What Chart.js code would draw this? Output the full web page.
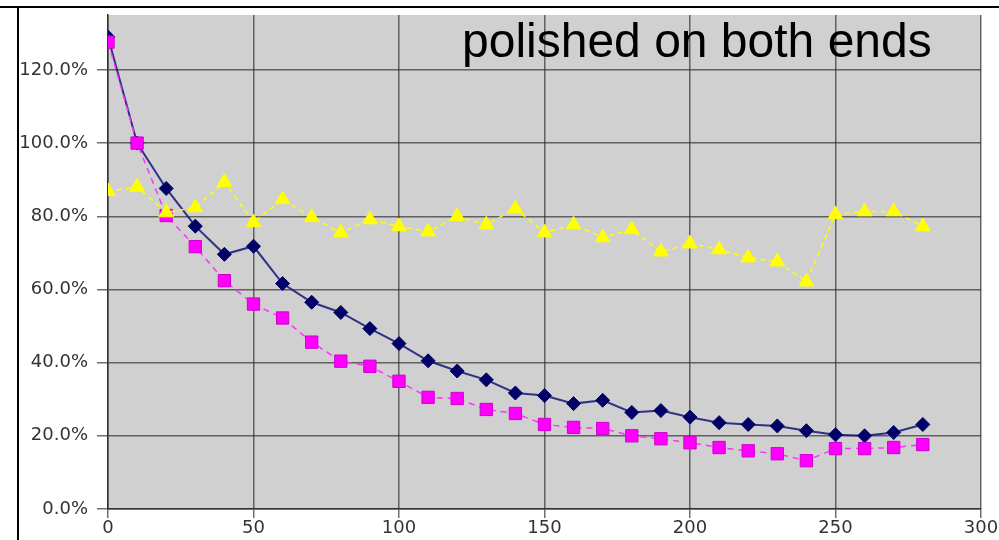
<!DOCTYPE html>
<html>
<head>
<meta charset="utf-8">
<script src="https://cdn.jsdelivr.net/npm/chart.js@4/dist/chart.umd.min.js"></script>
<style>
  html, body { margin: 0; padding: 0; background: #fff; }
  #wrap { position: relative; width: 999px; height: 540px; }
  #c { position: absolute; left: 0; top: 0; }
  .hline { position: absolute; left: 0; top: 6px; width: 999px; height: 2px; background: #000; }
  .vline { position: absolute; left: 17px; top: 6px; width: 2px; height: 534px; background: #000; }
</style>
</head>
<body>
<div id="wrap">
  <canvas id="c" width="999" height="540"></canvas>
  <div class="hline"></div>
  <div class="vline"></div>
</div>
<script>
const titleText = "polished on both ends";
const xValues = [0,10,20,30,40,50,60,70,80,90,100,110,120,130,140,150,160,170,180,190,200,210,220,230,240,250,260,270,280];
const navySeries = [129,100,87.6,77.3,69.6,71.8,61.6,56.5,53.7,49.3,45.2,40.5,37.7,35.3,31.7,31,28.8,29.7,26.4,26.9,25.1,23.6,23.1,22.7,21.4,20.3,20,20.9,23.1];
const magentaSeries = [127.6,100,80.2,71.7,62.4,56,52.2,45.6,40.4,39,34.9,30.5,30.2,27.2,26.1,23.1,22.3,22,20,19.2,18.1,16.8,15.9,15.1,13.2,16.5,16.5,16.8,17.6];
const yellowSeries = [86.8,88,81,82.4,89.3,78.3,84.6,79.7,75.5,79.1,77.2,75.8,80,77.7,82.1,75.5,77.7,74.2,76.4,70.3,72.5,70.9,68.7,67.6,62.1,80.5,81.3,81.3,77.2];
const yTickStep = 20;
const xTickStep = 50;

function pts(arr) { return arr.map((v, i) => ({ x: xValues[i], y: v })); }

const bgPlugin = {
  id: 'bg',
  beforeDraw(chart) {
    const a = chart.chartArea, ctx = chart.ctx;
    ctx.save();
    ctx.fillStyle = '#d0d0d0';
    ctx.fillRect(a.left, a.top, a.right - a.left, a.bottom - a.top);
    ctx.restore();
  }
};
const titlePlugin = {
  id: 'innerTitle',
  afterDatasetsDraw(chart) {
    const ctx = chart.ctx;
    ctx.save();
    ctx.font = '48px "Liberation Sans", Arial, sans-serif';
    ctx.fillStyle = '#000';
    ctx.textAlign = 'left';
    ctx.textBaseline = 'alphabetic';
    ctx.fillText(titleText, 462, 57);
    ctx.restore();
  }
};

new Chart(document.getElementById('c'), {
  type: 'line',
  data: {
    datasets: [
      {
        label: 'yellow', data: pts(yellowSeries),
        borderColor: '#ffff00', backgroundColor: '#ffff00', borderWidth: 1.5, borderDash: [5, 4],
        pointStyle: 'triangle', pointRadius: 8.5, pointBorderWidth: 1, pointBorderColor: '#ffff00', pointBackgroundColor: '#ffff00',
        tension: 0, fill: false
      },
      {
        label: 'magenta', data: pts(magentaSeries),
        borderColor: '#ff33ff', backgroundColor: '#ff00ff', borderWidth: 1.5, borderDash: [6, 5],
        pointStyle: 'rect', pointRadius: 8.7, pointBorderWidth: 1, pointBorderColor: '#cc00cc', pointBackgroundColor: '#ff00ff',
        tension: 0, fill: false
      },
      {
        label: 'navy', data: pts(navySeries),
        borderColor: 'rgba(20,20,120,0.85)', backgroundColor: '#000066', borderWidth: 2,
        pointStyle: 'rectRot', pointRadius: 7, pointBorderWidth: 1, pointBorderColor: '#000066', pointBackgroundColor: '#000066',
        tension: 0, fill: false
      }
    ]
  },
  options: {
    responsive: false,
    devicePixelRatio: 1,
    animation: false,
    layout: { padding: { left: 0, top: 15, right: 18, bottom: 0 } },
    plugins: { legend: { display: false }, tooltip: { enabled: false }, title: { display: false } },
    scales: {
      x: {
        type: 'linear', min: 0, max: 300,
        afterFit(s) { s.height = 31; s.paddingLeft = 0; s.paddingRight = 0; },
        ticks: { stepSize: xTickStep, padding: 0, color: '#333', font: { family: 'DejaVu Sans', size: 18 }, maxRotation: 0 },
        grid: { color: 'rgba(50,50,50,0.7)', lineWidth: 1.5, tickLength: 9 },
        border: { color: '#333', width: 1.5 }
      },
      y: {
        type: 'linear', min: 0, max: 135,
        afterFit(s) { s.width = 108; s.paddingTop = 0; s.paddingBottom = 0; },
        ticks: { stepSize: yTickStep, includeBounds: false, padding: 9, color: '#333', font: { family: 'DejaVu Sans', size: 18 },
          callback: v => v.toFixed(1) + '%' },
        grid: { color: 'rgba(50,50,50,0.7)', lineWidth: 1.5, tickLength: 11 },
        border: { color: '#333', width: 1.5 }
      }
    }
  },
  plugins: [bgPlugin, titlePlugin]
});
</script>
</body>
</html>
